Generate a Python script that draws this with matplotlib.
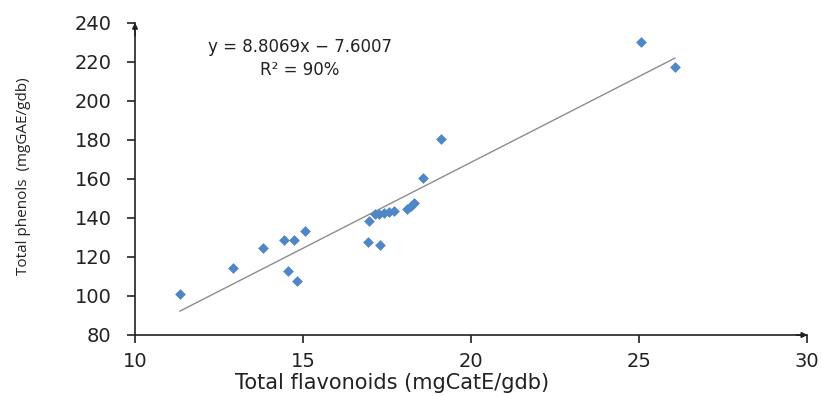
import matplotlib
matplotlib.use("Agg")
import matplotlib.pyplot as plt
import numpy as np

flavonoids = [11.34, 12.92, 13.81, 14.43, 14.73, 14.55, 14.82, 15.06, 16.93, 17.29,
              16.96, 17.14, 17.26, 17.41, 17.56, 17.71, 18.1, 18.2, 18.3, 18.57,
              19.1, 25.06, 26.07]
phenols = [101.0, 114.4, 124.6, 128.7, 128.7, 112.8, 107.7, 133.3, 127.7, 126.2,
           138.5, 142.0, 142.3, 142.6, 143.1, 143.6, 144.6, 146.0, 147.7, 160.5,
           180.5, 230.3, 217.4]
slope = 8.8069
intercept = -7.6007
r2_text = "R² = 90%"
eq_text = "y = 8.8069x − 7.6007"

plt.rcParams['font.family'] = ['DejaVu Sans']

fig = plt.figure(figsize=(8.22, 3.96), dpi=100)
ax = fig.add_axes([135/822, 1-335/396, (807-135)/822, (335-23)/396])

xs = np.array([min(flavonoids), max(flavonoids)])
ax.plot(xs, slope*xs + intercept, color='#8c8c8c', lw=1.0, zorder=2)
ax.scatter(flavonoids, phenols, marker='D', s=30, color='#4f86c6', zorder=3, linewidths=0)

ax.set_xlim(10, 30)
ax.set_ylim(80, 240)
ax.set_xticks([10, 15, 20, 25, 30])
ax.set_yticks(range(80, 241, 20))
for s in ['top', 'right']:
    ax.spines[s].set_visible(False)
for s in ['left', 'bottom']:
    ax.spines[s].set_color('#222222')
    ax.spines[s].set_linewidth(1.2)
ax.tick_params(direction='out', length=6, width=1.2, color='#222222', labelsize=14, labelcolor='#222222')
ax.tick_params(axis='x', pad=6)
ax.tick_params(axis='y', pad=11)

ax.annotate('', xy=(1.005, 0), xytext=(0.98, 0), xycoords='axes fraction',
            arrowprops=dict(arrowstyle='-|>', color='#222222', lw=1.2, mutation_scale=8))
ax.annotate('', xy=(0, 1.01), xytext=(0, 0.95), xycoords='axes fraction',
            arrowprops=dict(arrowstyle='-|>', color='#222222', lw=1.2, mutation_scale=8))

fig.text(392/822, 1-383/396, 'Total flavonoids (mgCatE/gdb)', ha='center', va='center',
         fontsize=15, color='#222222')
fig.text(24/822, 1-176/396, 'Total phenols  (mgGAE/gdb)', ha='center', va='center',
         rotation=90, fontsize=11, color='#222222', family=['Open Sans', 'DejaVu Sans'])

fig.text(300/822, 1-47/396, eq_text, ha='center', va='center', fontsize=12, color='#222222')
fig.text(300/822, 1-70/396, r2_text, ha='center', va='center', fontsize=12, color='#222222')

fig.savefig('out.png', dpi=100)
